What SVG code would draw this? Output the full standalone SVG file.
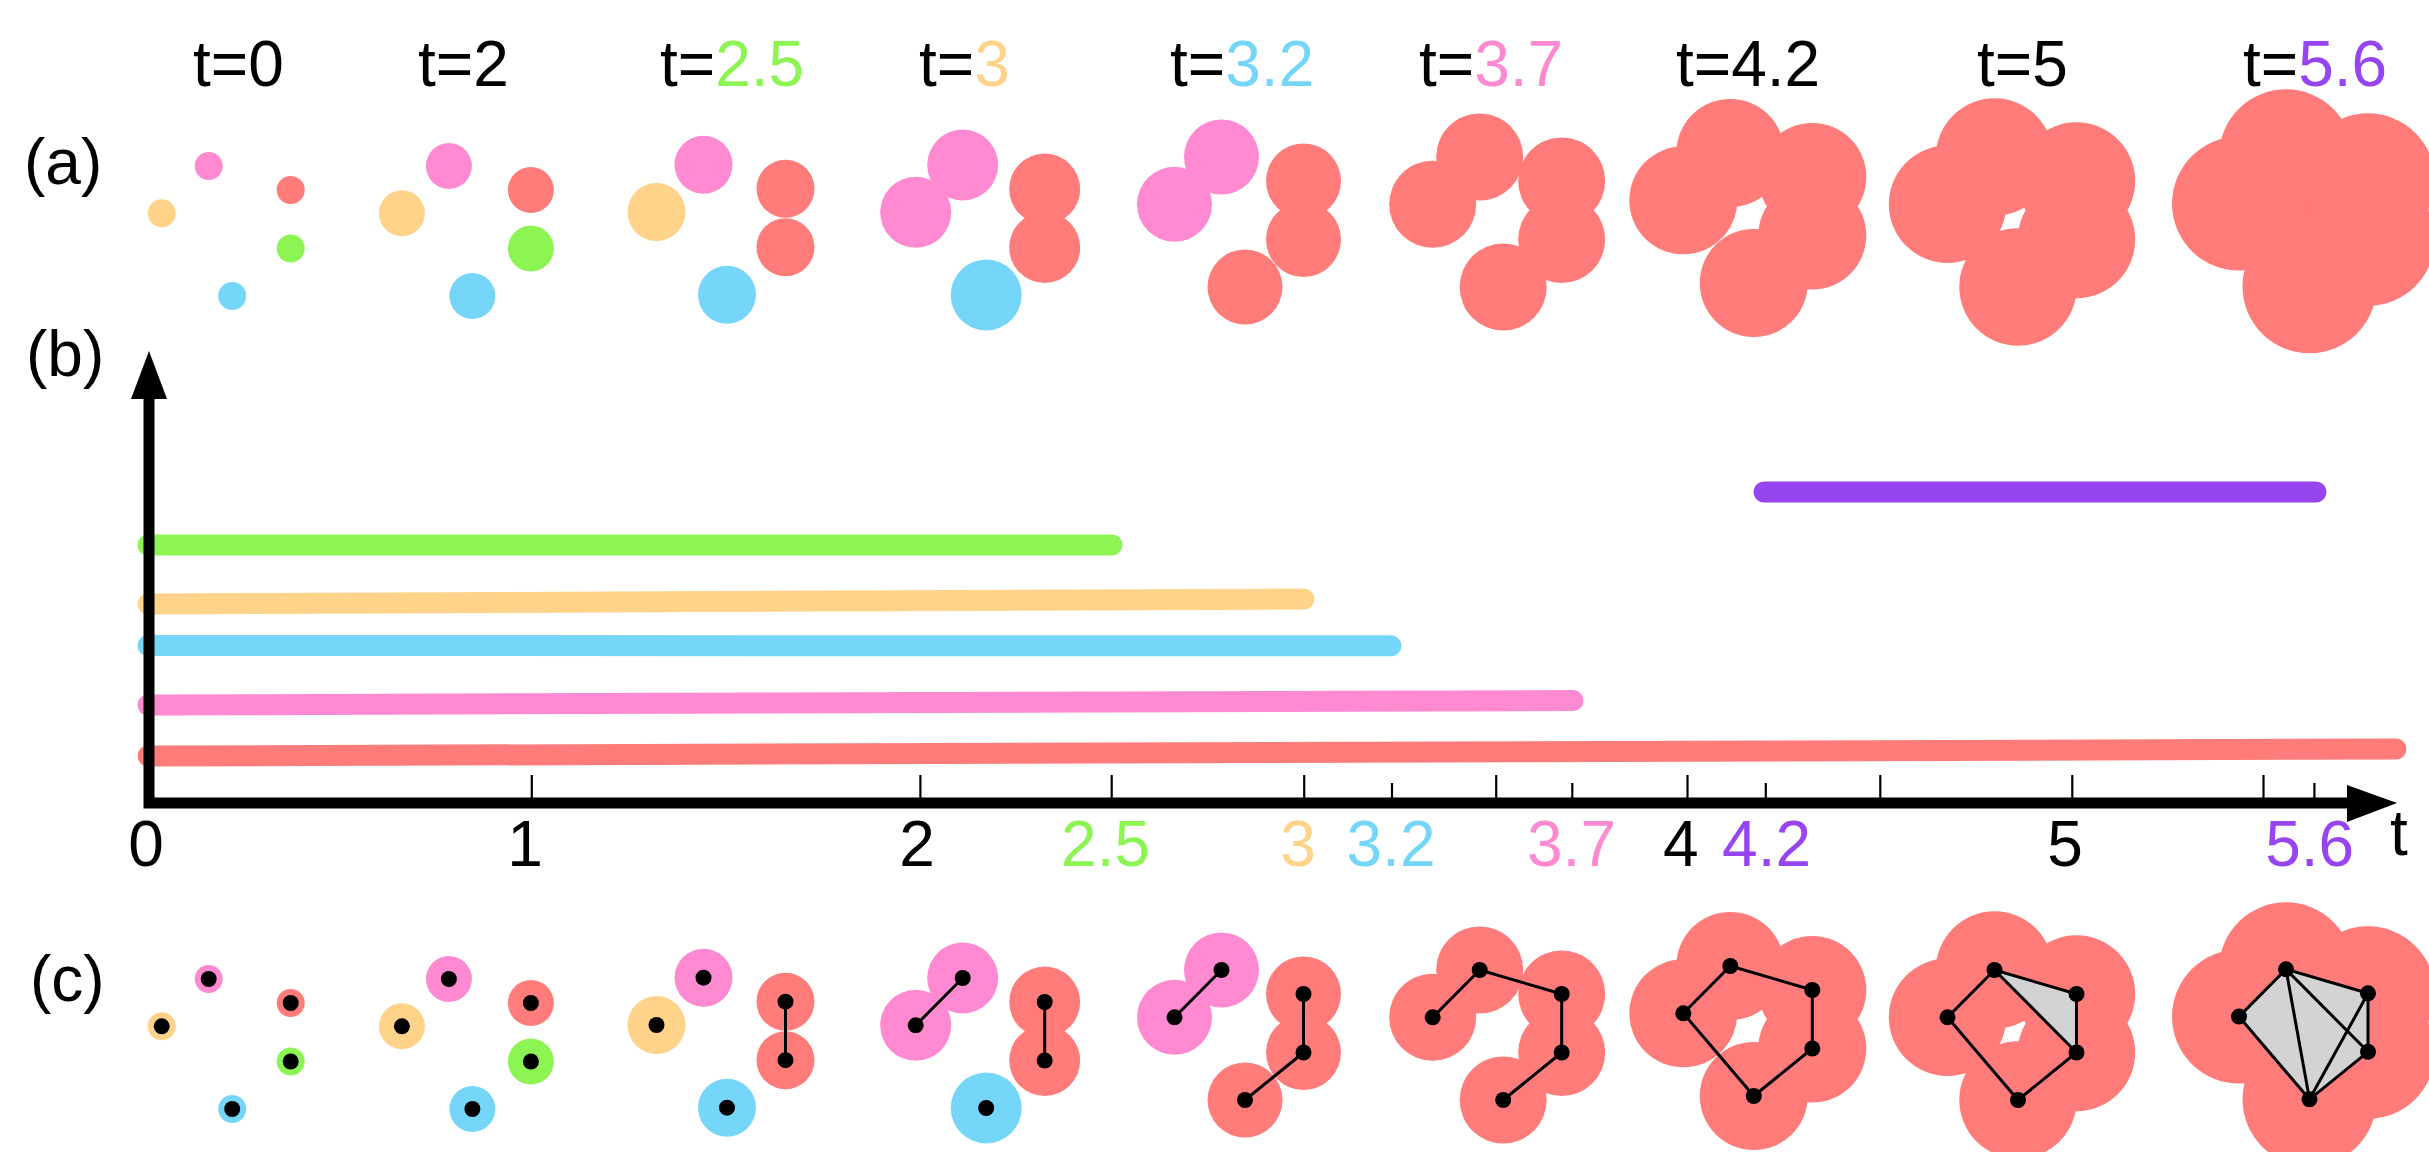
<svg xmlns="http://www.w3.org/2000/svg" width="2429" height="1152" viewBox="0 0 2429 1152">
<style>
text{font-family:"Liberation Sans",Arial,Helvetica,sans-serif;font-size:64px;fill:#000}
.r{fill:#FF7C7A}.p{fill:#FF8AD2}.o{fill:#FFD38A}.g{fill:#8CF553}.b{fill:#76D6FA}
.tr{fill:#FF7C7A}.tp{fill:#FF8AD2}.to{fill:#FFD38A}.tg{fill:#8CF553}.tb{fill:#76D6FA}.tv{fill:#9745F1}
.bar{stroke-width:21;stroke-linecap:round;fill:none}
.tick{stroke:#000;stroke-width:2.2}
.e{stroke:#000;stroke-width:3;fill:none;stroke-linejoin:round}
.tri{fill:#D3D3D3;stroke:none}
.d{fill:#000}
</style>
<rect width="2429" height="1152" fill="#fff"/>

<g id="labels-top">
<text x="193" y="86">t=0</text>
<text x="418" y="86">t=2</text>
<text x="660" y="86">t=<tspan class="tg">2.5</tspan></text>
<text x="919" y="86">t=<tspan class="to">3</tspan></text>
<text x="1170" y="86">t=<tspan class="tb">3.2</tspan></text>
<text x="1419" y="86">t=<tspan class="tp">3.7</tspan></text>
<text x="1676" y="86">t=4.2</text>
<text x="1977" y="86">t=5</text>
<text x="2243" y="86">t=<tspan class="tv">5.6</tspan></text>
</g>

<g id="part-labels">
<text x="24" y="184">(a)</text>
<text x="26" y="376">(b)</text>
<text x="30" y="1001">(c)</text>
</g>

<!-- (a) panels -->
<g id="a1">
<circle class="p" cx="208.7" cy="166" r="14"/><circle class="r" cx="290.7" cy="190" r="14"/><circle class="o" cx="161.7" cy="213.3" r="14"/><circle class="g" cx="290.7" cy="248.5" r="14"/><circle class="b" cx="232.2" cy="296" r="14"/>
</g>
<g id="a2">
<circle class="p" cx="448.9" cy="166" r="23"/><circle class="r" cx="530.9" cy="190" r="23"/><circle class="o" cx="401.9" cy="213.3" r="23"/><circle class="g" cx="530.9" cy="248.5" r="23"/><circle class="b" cx="472.4" cy="296" r="23"/>
</g>
<g id="a3">
<circle class="p" cx="703.5" cy="164.7" r="29"/><circle class="r" cx="785.5" cy="188.7" r="29"/><circle class="o" cx="656.5" cy="212" r="29"/><circle class="r" cx="785.5" cy="247.2" r="29"/><circle class="b" cx="727" cy="294.7" r="29"/>
</g>
<g id="a4">
<circle class="p" cx="962.7" cy="165" r="35.5"/><circle class="r" cx="1044.7" cy="189" r="35.5"/><circle class="p" cx="915.7" cy="212.3" r="35.5"/><circle class="r" cx="1044.7" cy="247.5" r="35.5"/><circle class="b" cx="986.2" cy="295" r="35.5"/>
</g>
<g id="a5">
<circle class="p" cx="1221.5" cy="157" r="37.5"/><circle class="r" cx="1303.5" cy="181" r="37.5"/><circle class="p" cx="1174.5" cy="204.3" r="37.5"/><circle class="r" cx="1303.5" cy="239.5" r="37.5"/><circle class="r" cx="1245" cy="287" r="37.5"/>
</g>
<g id="a6">
<circle class="r" cx="1479.7" cy="157" r="43.5"/><circle class="r" cx="1561.7" cy="181" r="43.5"/><circle class="r" cx="1432.7" cy="204.3" r="43.5"/><circle class="r" cx="1561.7" cy="239.5" r="43.5"/><circle class="r" cx="1503.2" cy="287" r="43.5"/>
</g>
<g id="a7">
<circle class="r" cx="1730.3" cy="153" r="54"/><circle class="r" cx="1812.3" cy="177" r="54"/><circle class="r" cx="1683.3" cy="200.3" r="54"/><circle class="r" cx="1812.3" cy="235.5" r="54"/><circle class="r" cx="1753.8" cy="283" r="54"/>
</g>
<g id="a8">
<circle class="r" cx="1994.5" cy="157" r="58.7"/><circle class="r" cx="2076.5" cy="181" r="58.7"/><circle class="r" cx="1947.5" cy="204.3" r="58.7"/><circle class="r" cx="2076.5" cy="239.5" r="58.7"/><circle class="r" cx="2018" cy="287" r="58.7"/>
</g>
<g id="a9">
<circle class="r" cx="2286" cy="156.3" r="67"/><circle class="r" cx="2368" cy="180.3" r="67"/><circle class="r" cx="2239" cy="203.6" r="67"/><circle class="r" cx="2368" cy="238.8" r="67"/><circle class="r" cx="2309.5" cy="286.3" r="67"/>
</g>

<!-- (b) barcode -->
<g id="bars">
<line class="bar" stroke="#8CF553" x1="148" y1="545" x2="1112" y2="545"/>
<line class="bar" stroke="#FFD38A" x1="148" y1="604" x2="1304" y2="599"/>
<line class="bar" stroke="#76D6FA" x1="148" y1="645.5" x2="1391" y2="645.8"/>
<line class="bar" stroke="#FF8AD2" x1="148" y1="705" x2="1573" y2="700.5"/>
<line class="bar" stroke="#FF7C7A" x1="148" y1="756" x2="2396" y2="749"/>
<line class="bar" stroke="#9745F1" x1="1764" y1="492" x2="2316" y2="492"/>
</g>

<g id="axes">
<path d="M149,398 L149,803 L2350,803" stroke="#000" stroke-width="11" fill="none" stroke-linejoin="miter"/>
<polygon points="149,351 131,399 167,399" fill="#000"/>
<polygon points="2397,803 2347,785 2347,822" fill="#000"/>
<g id="ticks">
<line class="tick" x1="531.8" y1="775" x2="531.8" y2="799"/>
<line class="tick" x1="920.4" y1="775" x2="920.4" y2="799"/>
<line class="tick" x1="1111.7" y1="775" x2="1111.7" y2="799"/>
<line class="tick" x1="1304.2" y1="775" x2="1304.2" y2="799"/>
<line class="tick" x1="1392" y1="783" x2="1392" y2="799"/>
<line class="tick" x1="1496.2" y1="775" x2="1496.2" y2="799"/>
<line class="tick" x1="1572.3" y1="783" x2="1572.3" y2="799"/>
<line class="tick" x1="1687.5" y1="775" x2="1687.5" y2="799"/>
<line class="tick" x1="1765.8" y1="783" x2="1765.8" y2="799"/>
<line class="tick" x1="1880.3" y1="775" x2="1880.3" y2="799"/>
<line class="tick" x1="2072.3" y1="775" x2="2072.3" y2="799"/>
<line class="tick" x1="2263.5" y1="775" x2="2263.5" y2="799"/>
<line class="tick" x1="2314.4" y1="783" x2="2314.4" y2="799"/>
</g>
<g id="axis-labels" text-anchor="middle">
<text x="146" y="866">0</text>
<text x="525" y="866">1</text>
<text x="917" y="866">2</text>
<text x="1105.6" y="866" class="tg">2.5</text>
<text x="1298" y="866" class="to">3</text>
<text x="1391" y="866" class="tb">3.2</text>
<text x="1571.5" y="866" class="tp">3.7</text>
<text x="1680.7" y="866">4</text>
<text x="1766.6" y="866" class="tv">4.2</text>
<text x="2065" y="866">5</text>
<text x="2309.7" y="866" class="tv">5.6</text>
<text x="2399" y="855">t</text>
</g>
</g>

<!-- (c) panels -->
<g id="c1">
<circle class="p" cx="208.7" cy="979" r="14"/><circle class="r" cx="290.7" cy="1003" r="14"/><circle class="o" cx="161.7" cy="1026.3" r="14"/><circle class="g" cx="290.7" cy="1061.5" r="14"/><circle class="b" cx="232.2" cy="1109" r="14"/>
<circle class="d" cx="208.7" cy="979" r="8"/><circle class="d" cx="290.7" cy="1003" r="8"/><circle class="d" cx="161.7" cy="1026.3" r="8"/><circle class="d" cx="290.7" cy="1061.5" r="8"/><circle class="d" cx="232.2" cy="1109" r="8"/>
</g>
<g id="c2">
<circle class="p" cx="448.9" cy="979" r="23"/><circle class="r" cx="530.9" cy="1003" r="23"/><circle class="o" cx="401.9" cy="1026.3" r="23"/><circle class="g" cx="530.9" cy="1061.5" r="23"/><circle class="b" cx="472.4" cy="1109" r="23"/>
<circle class="d" cx="448.9" cy="979" r="8"/><circle class="d" cx="530.9" cy="1003" r="8"/><circle class="d" cx="401.9" cy="1026.3" r="8"/><circle class="d" cx="530.9" cy="1061.5" r="8"/><circle class="d" cx="472.4" cy="1109" r="8"/>
</g>
<g id="c3">
<circle class="p" cx="703.5" cy="977.7" r="29"/><circle class="r" cx="785.5" cy="1001.7" r="29"/><circle class="o" cx="656.5" cy="1025" r="29"/><circle class="r" cx="785.5" cy="1060.2" r="29"/><circle class="b" cx="727" cy="1107.7" r="29"/>
<line class="e" x1="785.5" y1="1001.7" x2="785.5" y2="1060.2"/>
<circle class="d" cx="703.5" cy="977.7" r="8"/><circle class="d" cx="785.5" cy="1001.7" r="8"/><circle class="d" cx="656.5" cy="1025" r="8"/><circle class="d" cx="785.5" cy="1060.2" r="8"/><circle class="d" cx="727" cy="1107.7" r="8"/>
</g>
<g id="c4">
<circle class="p" cx="962.7" cy="978" r="35.5"/><circle class="r" cx="1044.7" cy="1002" r="35.5"/><circle class="p" cx="915.7" cy="1025.3" r="35.5"/><circle class="r" cx="1044.7" cy="1060.5" r="35.5"/><circle class="b" cx="986.2" cy="1108" r="35.5"/>
<line class="e" x1="962.7" y1="978" x2="915.7" y2="1025.3"/>
<line class="e" x1="1044.7" y1="1002" x2="1044.7" y2="1060.5"/>
<circle class="d" cx="962.7" cy="978" r="8"/><circle class="d" cx="1044.7" cy="1002" r="8"/><circle class="d" cx="915.7" cy="1025.3" r="8"/><circle class="d" cx="1044.7" cy="1060.5" r="8"/><circle class="d" cx="986.2" cy="1108" r="8"/>
</g>
<g id="c5">
<circle class="p" cx="1221.5" cy="970" r="37.5"/><circle class="r" cx="1303.5" cy="994" r="37.5"/><circle class="p" cx="1174.5" cy="1017.3" r="37.5"/><circle class="r" cx="1303.5" cy="1052.5" r="37.5"/><circle class="r" cx="1245" cy="1100" r="37.5"/>
<polyline class="e" points="1221.5,970 1174.5,1017.3"/>
<polyline class="e" points="1303.5,994 1303.5,1052.5 1245,1100"/>
<circle class="d" cx="1221.5" cy="970" r="8"/><circle class="d" cx="1303.5" cy="994" r="8"/><circle class="d" cx="1174.5" cy="1017.3" r="8"/><circle class="d" cx="1303.5" cy="1052.5" r="8"/><circle class="d" cx="1245" cy="1100" r="8"/>
</g>
<g id="c6">
<circle class="r" cx="1479.7" cy="970" r="43.5"/><circle class="r" cx="1561.7" cy="994" r="43.5"/><circle class="r" cx="1432.7" cy="1017.3" r="43.5"/><circle class="r" cx="1561.7" cy="1052.5" r="43.5"/><circle class="r" cx="1503.2" cy="1100" r="43.5"/>
<polyline class="e" points="1432.7,1017.3 1479.7,970 1561.7,994 1561.7,1052.5 1503.2,1100"/>
<circle class="d" cx="1479.7" cy="970" r="8"/><circle class="d" cx="1561.7" cy="994" r="8"/><circle class="d" cx="1432.7" cy="1017.3" r="8"/><circle class="d" cx="1561.7" cy="1052.5" r="8"/><circle class="d" cx="1503.2" cy="1100" r="8"/>
</g>
<g id="c7">
<circle class="r" cx="1730.3" cy="966" r="54"/><circle class="r" cx="1812.3" cy="990" r="54"/><circle class="r" cx="1683.3" cy="1013.3" r="54"/><circle class="r" cx="1812.3" cy="1048.5" r="54"/><circle class="r" cx="1753.8" cy="1096" r="54"/>
<polygon class="e" points="1683.3,1013.3 1730.3,966 1812.3,990 1812.3,1048.5 1753.8,1096"/>
<circle class="d" cx="1730.3" cy="966" r="8"/><circle class="d" cx="1812.3" cy="990" r="8"/><circle class="d" cx="1683.3" cy="1013.3" r="8"/><circle class="d" cx="1812.3" cy="1048.5" r="8"/><circle class="d" cx="1753.8" cy="1096" r="8"/>
</g>
<g id="c8">
<circle class="r" cx="1994.5" cy="970" r="58.7"/><circle class="r" cx="2076.5" cy="994" r="58.7"/><circle class="r" cx="1947.5" cy="1017.3" r="58.7"/><circle class="r" cx="2076.5" cy="1052.5" r="58.7"/><circle class="r" cx="2018" cy="1100" r="58.7"/>
<polygon class="tri" points="1994.5,970 2076.5,994 2076.5,1052.5"/>
<polygon class="e" points="1947.5,1017.3 1994.5,970 2076.5,994 2076.5,1052.5 2018,1100"/>
<line class="e" x1="1994.5" y1="970" x2="2076.5" y2="1052.5"/>
<circle class="d" cx="1994.5" cy="970" r="8"/><circle class="d" cx="2076.5" cy="994" r="8"/><circle class="d" cx="1947.5" cy="1017.3" r="8"/><circle class="d" cx="2076.5" cy="1052.5" r="8"/><circle class="d" cx="2018" cy="1100" r="8"/>
</g>
<g id="c9">
<circle class="r" cx="2286" cy="969.3" r="67"/><circle class="r" cx="2368" cy="993.3" r="67"/><circle class="r" cx="2239" cy="1016.6" r="67"/><circle class="r" cx="2368" cy="1051.8" r="67"/><circle class="r" cx="2309.5" cy="1099.3" r="67"/>
<polygon class="tri" points="2239,1016.6 2286,969.3 2368,993.3 2368,1051.8 2309.5,1099.3"/>
<polygon class="e" points="2239,1016.6 2286,969.3 2368,993.3 2368,1051.8 2309.5,1099.3"/>
<line class="e" x1="2286" y1="969.3" x2="2309.5" y2="1099.3"/>
<line class="e" x1="2286" y1="969.3" x2="2368" y2="1051.8"/>
<line class="e" x1="2368" y1="993.3" x2="2309.5" y2="1099.3"/>
<circle class="d" cx="2286" cy="969.3" r="8"/><circle class="d" cx="2368" cy="993.3" r="8"/><circle class="d" cx="2239" cy="1016.6" r="8"/><circle class="d" cx="2368" cy="1051.8" r="8"/><circle class="d" cx="2309.5" cy="1099.3" r="8"/>
</g>
</svg>
